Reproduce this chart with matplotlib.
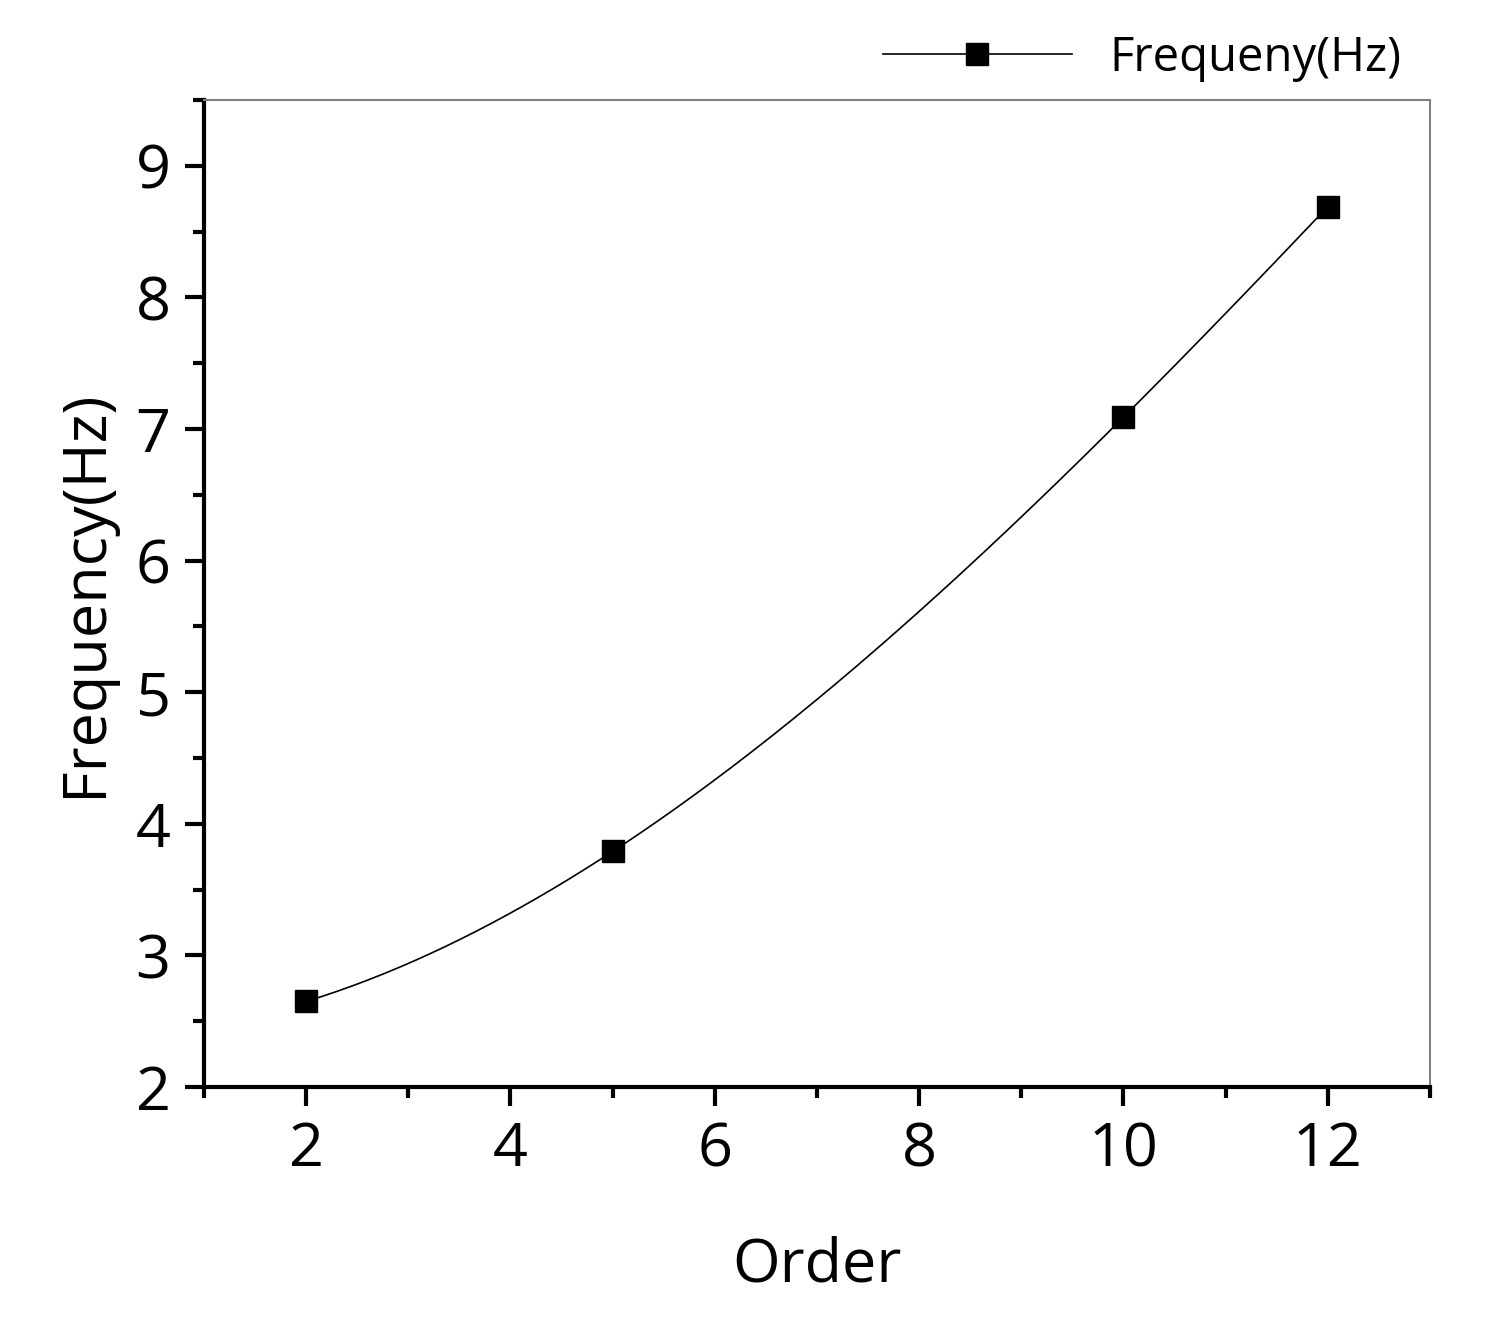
import matplotlib
matplotlib.use('agg')
import matplotlib.pyplot as plt
import numpy as np
from matplotlib.ticker import MultipleLocator

order = [2, 5, 10, 12]
freq = [2.65, 3.79, 7.09, 8.69]

plt.rcParams['font.family'] = ['Open Sans', 'DejaVu Sans']

fig = plt.figure(figsize=(14.88, 13.39), dpi=100)
ax = fig.add_axes([204 / 1488, 1 - 1087 / 1339, (1430 - 204) / 1488, (1087 - 100) / 1339])

# smooth curve through the points (cubic through 4 points)
c = np.polyfit(order, freq, 3)
xs = np.linspace(order[0], order[-1], 200)
ax.plot(xs, np.polyval(c, xs), color='black', lw=1.2)
ax.plot(order, freq, 's', color='black', ms=16)
ax.plot([], [], 's-', color='black', ms=16, lw=1.2, label='Frequeny(Hz)')

ax.set_xlim(1, 13)
ax.set_ylim(2, 9.5)
ax.xaxis.set_major_locator(MultipleLocator(2))
ax.xaxis.set_minor_locator(MultipleLocator(1))
ax.yaxis.set_major_locator(MultipleLocator(1))
ax.yaxis.set_minor_locator(MultipleLocator(0.5))
ax.tick_params(which='major', length=14, width=3, labelsize=44, pad=10)
ax.tick_params(which='minor', length=8, width=3)
for s in ['left', 'bottom']:
    ax.spines[s].set_linewidth(3)
for s in ['top', 'right']:
    ax.spines[s].set_color('gray')
    ax.spines[s].set_linewidth(1.5)

ax.set_xlabel('Order', fontsize=44, labelpad=40)
ax.set_ylabel('Frequency(Hz)', fontsize=44, labelpad=15)

ax.legend(loc='lower right', bbox_to_anchor=(1.0, 0.99), frameon=False,
          fontsize=34, handlelength=4, borderaxespad=0.2)

fig.savefig('out.png')
plt.close(fig)
